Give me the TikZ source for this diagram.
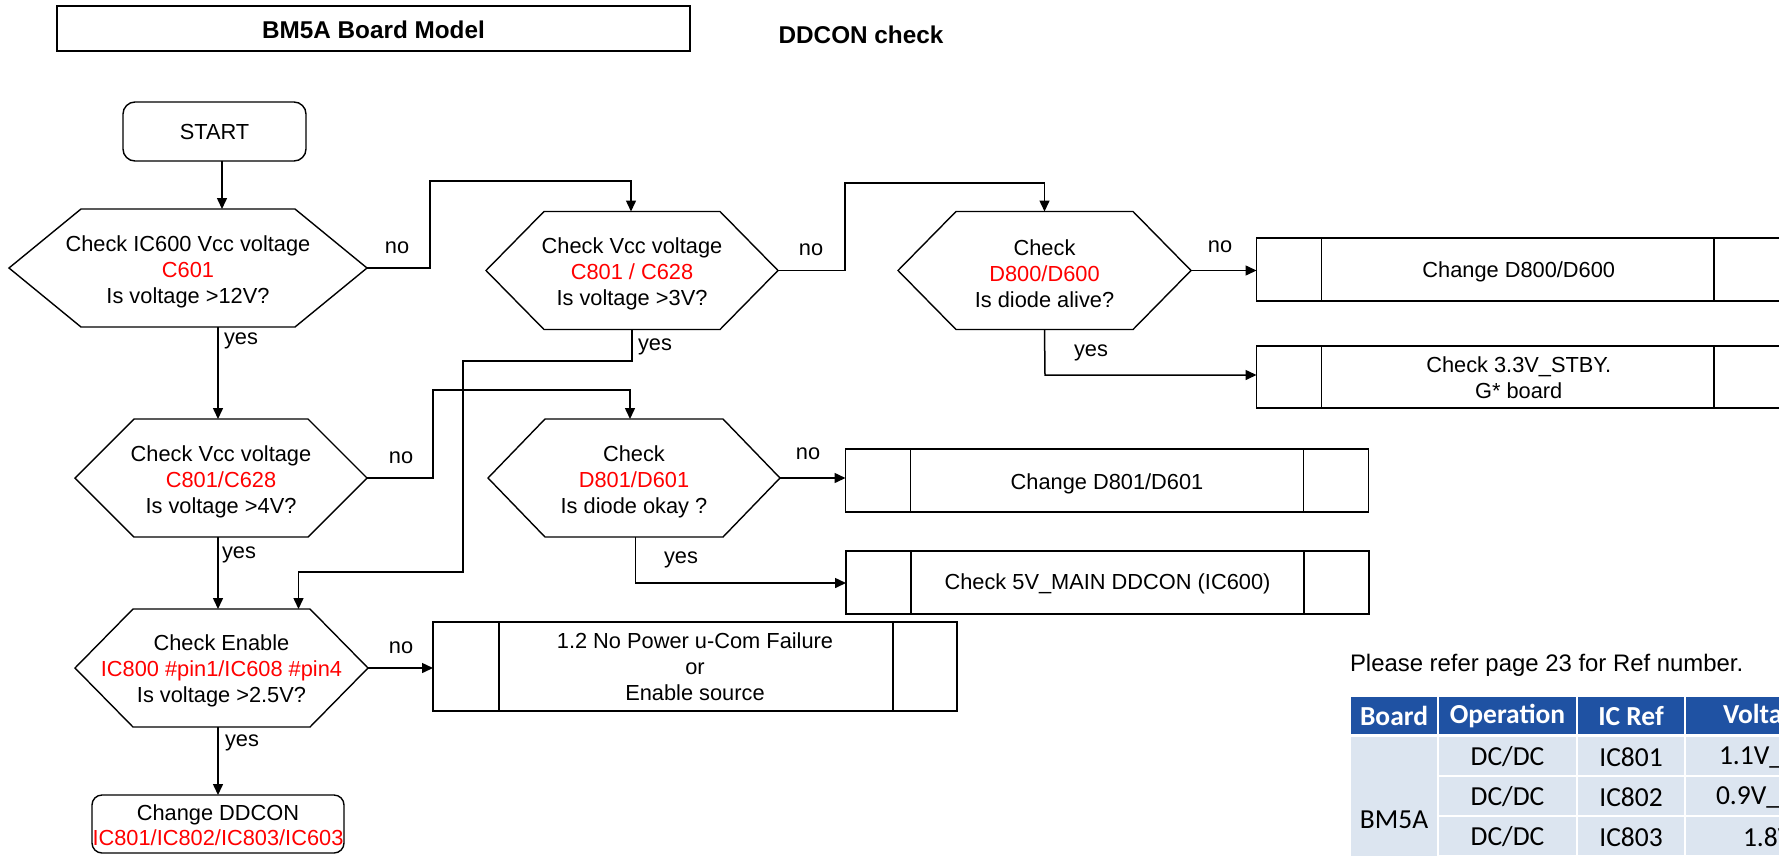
\documentclass[tikz,border=0pt]{standalone}
\usepackage{fontspec}
\setmainfont{Liberation Sans}
\newfontfamily\tabfont{Carlito}
\usetikzlibrary{arrows.meta,calc}
\definecolor{hdrblue}{RGB}{31,82,163}
\definecolor{cellblue}{RGB}{220,229,240}
\definecolor{txtred}{RGB}{255,0,0}
\newcommand\rt[1]{\textcolor{txtred}{#1}}
\newcommand\hexoutline[2]{\draw[boxline] (#1.west) -- ([xshift=#2]#1.north west) -- ([xshift=-#2]#1.north east) -- (#1.east) -- ([xshift=-#2]#1.south east) -- ([xshift=#2]#1.south west) -- cycle;}
\newcommand\dividers[3]{\draw[boxline] ([xshift=#2]#1.north west) -- ([xshift=#2]#1.south west); \draw[boxline] ([xshift=-#3]#1.north east) -- ([xshift=-#3]#1.south east);}
\tikzset{
  every node/.style={font=\fontsize{21.8}{26}\selectfont, inner sep=0pt, outer sep=0pt},
  boxline/.style={draw=black, line width=1.4pt},
  conn/.style={draw=black, line width=1.5pt},
  arr/.style={conn, -{Triangle[length=11pt,width=10pt]}},
  hexnode/.style={minimum height=118pt},
  hextext/.style={align=center},
  procbox/.style={boxline, align=center},
  boldtxt/.style={font=\fontsize{24.3}{29}\selectfont\bfseries},
  tabhead/.style={font=\tabfont\fontsize{27.5}{33}\selectfont\bfseries, text=white},
  tabcell/.style={font=\tabfont\fontsize{27.5}{33}\selectfont, text=black},
  yeslbl/.style={yshift=-3pt},
  nolbl/.style={yshift=-1pt},
}
\begin{document}
\begin{tikzpicture}[x=1pt,y=-1pt]
\useasboundingbox (0,0) rectangle (1779,855);
\clip (0,0) rectangle (1779,855);
\fill[white] (0,0) rectangle (1779,855);

% titles
\node[boxline, boldtxt, minimum width=633pt, minimum height=45pt] (title) at (373.5,28.5) {};
\node[boldtxt] (titlet) at ([yshift=-1pt]title.center) {BM5A Board Model};
\node[boldtxt] (ddcon) at (861,35) {DDCON check};

% start
\node[boxline, rounded corners=12pt, minimum width=183pt, minimum height=59pt] (start) at (214.5,131.5) {START};

% decisions
\node[hexnode, minimum width=358pt] (h1) at (188,268) {};
\hexoutline{h1}{72}
\node[hextext] (h1t) at ([yshift=-3.5pt]h1.center) {Check IC600 Vcc voltage\\\rt{C601}\\Is voltage >12V?};
\node[hexnode, minimum width=292pt] (h2) at (632,270.5) {};
\hexoutline{h2}{58}
\node[hextext] (h2t) at ([yshift=-3.5pt]h2.center) {Check Vcc voltage\\\rt{C801 / C628}\\Is voltage >3V?};
\node[hexnode, minimum width=293pt] (h3) at (1044.5,270.5) {};
\hexoutline{h3}{58}
\node[hextext] (h3t) at ([yshift=-3pt]h3.center) {Check\\\rt{D800/D600}\\Is diode alive?};
\node[hexnode, minimum width=292pt] (h4) at (221,478) {};
\hexoutline{h4}{59}
\node[hextext] (h4t) at ([yshift=-3.5pt]h4.center) {Check Vcc voltage\\\rt{C801/C628}\\Is voltage >4V?};
\node[hexnode, minimum width=292pt] (h5) at (634,478) {};
\hexoutline{h5}{57}
\node[hextext] (h5t) at ([yshift=-3.5pt]h5.center) {Check\\\rt{D801/D601}\\Is diode okay ?};
\node[hexnode, minimum width=293pt] (h6) at (221.5,668) {};
\hexoutline{h6}{58}
\node[hextext] (h6t) at ([yshift=-2.5pt]h6.center) {Check Enable\\\rt{IC800 \#pin1/IC608 \#pin4}\\Is voltage >2.5V?};

% end box
\node[boxline, rounded corners=10pt, minimum width=252pt, minimum height=58pt] (end) at (218,824) {};
\node[align=center, font=\fontsize{21.8}{25}\selectfont] (endt) at ([yshift=-1pt]end.center) {Change DDCON\\\rt{IC801/IC802/IC803/IC603}};

% process boxes
\node[procbox, minimum width=524.5pt, minimum height=63pt] (b1) at (1518.75,269.5) {};
\node (b1t) at ([yshift=-2.5pt]b1.center) {Change D800/D600};
\dividers{b1}{65}{67}
\node[procbox, minimum width=524.5pt, minimum height=62pt] (b2) at (1518.75,377) {};
\node[align=center] (b2t) at ([yshift=-1pt]b2.center) {Check 3.3V\_STBY.\\G* board};
\dividers{b2}{65}{67}
\node[procbox, minimum width=523pt, minimum height=63pt] (b3) at (1107,480.5) {};
\node (b3t) at ([yshift=-3pt]b3.center) {Change D801/D601};
\dividers{b3}{65}{65}
\node[procbox, minimum width=523pt, minimum height=63pt] (b4) at (1107.5,582.5) {};
\node (b4t) at ([yshift=-1.5pt]b4.center) {Check 5V\_MAIN DDCON (IC600)};
\dividers{b4}{65}{65}
\node[procbox, minimum width=524pt, minimum height=89pt] (b5) at (695,666.5) {1.2 No Power u-Com Failure\\or\\Enable source};
\dividers{b5}{66}{64}

% connectors
\draw[arr] ([xshift=7.5]start.south) -- ([xshift=7.5]start.south |- h1.north);
\draw[arr] (end.north |- h1.south) -- (end.north |- h4.north);
\draw[arr] (end.north |- h4.south) -- (end.north |- h6.north);
\draw[arr] (end.north |- h6.south) -- (end.north);

\draw[arr] (h1.east) -- (430,268) -- (430,181) -| ([xshift=-1]h2.north);
\draw[arr] (h2.east) -- (845,270.5) -- (845,183) -| (h3.north);
\draw[arr] (h3.east) -- (h3.east -| b1.west);
\draw[arr] (h3.south) -- (1045,375) -- (b2.west |- 0,375);
\draw[arr] (h2.south) -- (632,361) -- (463,361) -- (463,572) -| ([xshift=77]h6.north);
\draw[arr] (h4.east) -- (433,478) -- (433,390) -| ([xshift=-4]h5.north);
\draw[arr] (h5.east) -- (h5.east -| b3.west);
\draw[arr] ([xshift=1.5]h5.south) -- (635.5,583) -- (b4.west |- 0,583);
\draw[arr] (h6.east) -- (h6.east -| b5.west);

% labels
\node[nolbl] (n1) at (397,247) {no};
\node[nolbl] (n2) at (811,249) {no};
\node[nolbl] (n3) at (1220,246) {no};
\node[nolbl] (n4) at (401,457) {no};
\node[nolbl] (n5) at (808,453) {no};
\node[nolbl] (n6) at (401,647) {no};
\node[yeslbl] (y1) at (241,338) {yes};
\node[yeslbl] (y2) at (655,344) {yes};
\node[yeslbl] (y3) at (1091,350) {yes};
\node[yeslbl] (y4) at (239,552) {yes};
\node[yeslbl] (y5) at (681,557) {yes};
\node[yeslbl] (y6) at (242,740) {yes};

% note and table
\node[anchor=base west, font=\fontsize{23.9}{28}\selectfont] (note) at (1350,671) {Please refer page 23 for Ref number.};

\fill[hdrblue] (1351,697) rectangle (1437,734);
\fill[hdrblue] (1439,697) rectangle (1576,734);
\fill[hdrblue] (1578,697) rectangle (1684,734);
\fill[hdrblue] (1686,697) rectangle (1800,734);
\fill[cellblue] (1351,737) rectangle (1437,900);
\foreach \ya/\yb in {737/775,777/815,817/855,857/895}{
  \fill[cellblue] (1439,\ya) rectangle (1576,\yb);
  \fill[cellblue] (1578,\ya) rectangle (1684,\yb);
  \fill[cellblue] (1686,\ya) rectangle (1800,\yb);
}
\node[tabhead] (th1) at (1394,716) {Board};
\node[tabhead] (th2) at (1507.5,716) {Operation};
\node[tabhead] (th3) at (1631,716) {IC Ref};
\node[tabhead, anchor=west] (th4) at (1723,716) {Voltage};
\node[tabcell] (bm) at (1394,820) {BM5A};
\node[tabcell] (o1) at (1507.5,757) {DC/DC};
\node[tabcell] (o2) at (1507.5,797) {DC/DC};
\node[tabcell] (o3) at (1507.5,837) {DC/DC};
\node[tabcell] (r1) at (1631,757) {IC801};
\node[tabcell] (r2) at (1631,797) {IC802};
\node[tabcell] (r3) at (1631,837) {IC803};
\node[tabcell, anchor=west] (v1) at (1719,757) {1.1V\_};
\node[tabcell, anchor=west] (v2) at (1716,797) {0.9V\_};
\node[tabcell, anchor=west] (v3) at (1743,837) {1.8V};
\end{tikzpicture}
\end{document}
